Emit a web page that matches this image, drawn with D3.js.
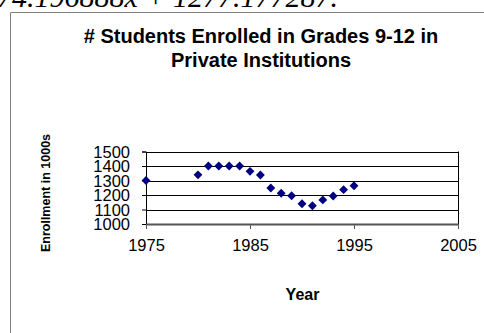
<!DOCTYPE html>
<html>
<head>
<meta charset="utf-8">
<script src="https://cdn.jsdelivr.net/npm/d3@7"></script>
<style>
  body { margin: 0; background: #fff; }
  svg { display: block; }
</style>
</head>
<body>
<div id="chart"></div>
<script>
// data
const years = [1975, 1980, 1981, 1982, 1983, 1984, 1985, 1986, 1987, 1988, 1989, 1990, 1991, 1992, 1993, 1994, 1995];
const enrollment = [1300, 1339, 1400, 1400, 1400, 1400, 1363, 1338, 1248, 1212, 1195, 1140, 1126, 1166, 1193, 1237, 1264];
const xTicks = [1975, 1985, 1995, 2005];
const yTicks = [1000, 1100, 1200, 1300, 1400, 1500];
const titleLines = ["# Students Enrolled in Grades 9-12 in", "Private Institutions"];

const W = 484, H = 333;
const svg = d3.select("#chart").append("svg").attr("width", W).attr("height", H);

// cut off equation text above the chart frame
svg.append("text")
  .attr("x", -3).attr("y", 7)
  .style("font-family", "'Liberation Serif', serif")
  .style("font-style", "italic")
  .style("font-size", "30px")
  .text("74.196888x + 1277.177287.");

// chart frame (right / bottom edges are off page)
svg.append("path")
  .attr("d", "M10.5,340V12.5H500")
  .attr("fill", "#fff")
  .attr("stroke", "#808080")
  .attr("stroke-width", 1);

const x = d3.scaleLinear().domain([1975, 2005]).range([146, 458]);
const y = d3.scaleLinear().domain([1000, 1500]).range([224, 151.5]);

// title
svg.append("text")
  .attr("text-anchor", "middle")
  .style("font-family", "'Liberation Sans', Arial, sans-serif")
  .style("font-weight", "bold")
  .style("font-size", "20px")
  .selectAll("tspan")
  .data(titleLines)
  .join("tspan")
  .attr("x", 261)
  .attr("y", (d, i) => 42.5 + i * 24.3)
  .text(d => d);

// gridlines
svg.append("g")
  .selectAll("line")
  .data(yTicks.slice(1))
  .join("line")
  .attr("x1", x(1975)).attr("x2", x(2005))
  .attr("y1", d => Math.round(y(d)) + 0.5)
  .attr("y2", d => Math.round(y(d)) + 0.5)
  .attr("stroke", "#000");

// right edge of plot area
svg.append("line")
  .attr("x1", x(2005) + 0.5).attr("x2", x(2005) + 0.5)
  .attr("y1", y(1500)).attr("y2", y(1000))
  .attr("stroke", "#000");

const axisFont = g => g
  .style("font-family", "'Liberation Sans', Arial, sans-serif")
  .style("font-size", "16.5px");

// y axis
svg.append("g")
  .attr("transform", `translate(${x(1975)},0)`)
  .call(d3.axisLeft(y).tickValues(yTicks).tickFormat(d3.format("d")).tickSize(4).tickPadding(12))
  .call(axisFont)
  .call(g => g.selectAll("line, path").attr("stroke", "#000"))
  .call(g => g.selectAll("text").attr("fill", "#000").attr("dy", "0.36em"));

// x axis
svg.append("g")
  .attr("transform", `translate(0,${y(1000)})`)
  .call(d3.axisBottom(x).tickValues(xTicks).tickFormat(d3.format("d")).tickSizeInner(5).tickSizeOuter(0))
  .call(axisFont)
  .call(g => g.select(".domain").attr("stroke", "#555").attr("stroke-width", 2))
  .call(g => g.selectAll(".tick line").attr("stroke", "#555"))
  .call(g => g.selectAll("text").attr("fill", "#000").attr("y", 27).attr("dy", null));

// points
svg.append("g")
  .selectAll("path")
  .data(years.map((yr, i) => [yr, enrollment[i]]))
  .join("path")
  .attr("transform", d => `translate(${x(d[0])},${y(d[1])})`)
  .attr("d", d3.symbol(d3.symbolDiamond2, 50))
  .attr("fill", "#000080");

// axis titles
svg.append("text")
  .attr("transform", `translate(50,193) rotate(-90)`)
  .attr("text-anchor", "middle")
  .style("font-family", "'Liberation Sans', Arial, sans-serif")
  .style("font-weight", "bold")
  .style("font-size", "12.5px")
  .text("Enrollment in 1000s");

svg.append("text")
  .attr("x", 302.5).attr("y", 300)
  .attr("text-anchor", "middle")
  .style("font-family", "'Liberation Sans', Arial, sans-serif")
  .style("font-weight", "bold")
  .style("font-size", "16px")
  .text("Year");
</script>
</body>
</html>
